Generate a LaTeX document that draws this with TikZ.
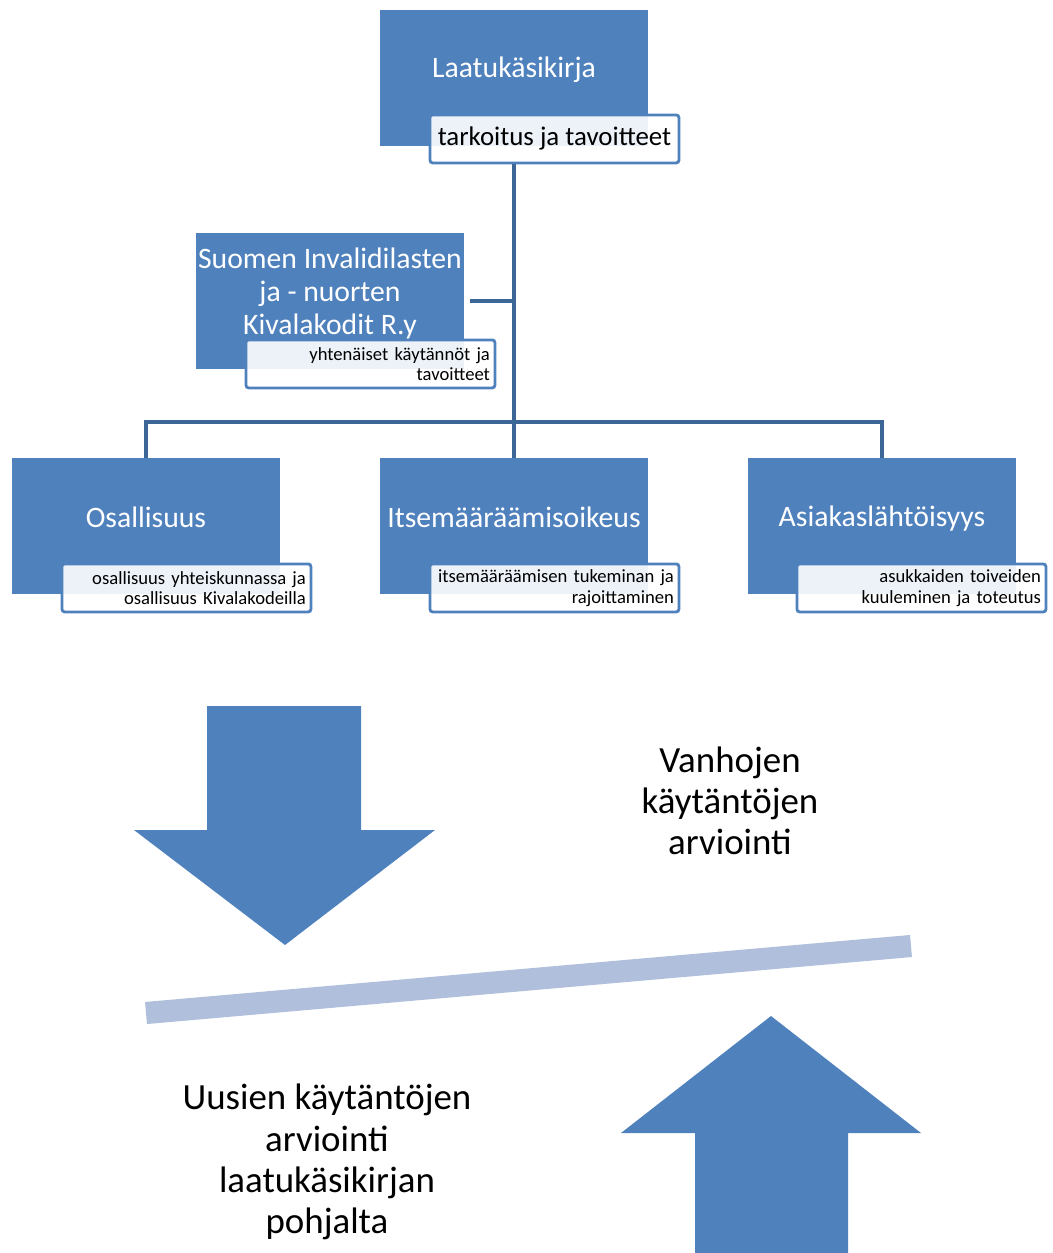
\documentclass[tikz,border=0pt]{standalone}
\usepackage{fontspec}
\setmainfont{Carlito}
\usepackage{tikz}
\usetikzlibrary{positioning,calc}
\definecolor{boxblue}{HTML}{4F81BD}
\definecolor{linkblue}{HTML}{3C6696}
\definecolor{barblue}{HTML}{B0C0DC}

\begin{document}
\begin{tikzpicture}[
        x=0.02cm, y=-0.02cm,
        % Global Styles
        box/.style={rectangle, fill=boxblue, minimum width=5.36cm, minimum height=2.72cm, inner sep=0pt},
        boxtitle/.style={text=white, font=\fontsize{16.9}{18.8}\selectfont, align=center},
        lbl/.style={rectangle, draw=boxblue, line width=1.6pt, rounded corners=1.5pt, fill=white, fill opacity=0.9, text opacity=1, minimum width=4.98cm, minimum height=0.96cm, inner sep=2pt, anchor=south east},
        small/.style={lbl, align=right, text width=4.78cm, font=\fontsize{10.6}{11.6}\selectfont},
        conn/.style={draw=linkblue, line width=2.3pt},
        bigarrow/.style={fill=boxblue},
        bigtext/.style={align=center, font=\fontsize{21}{23.4}\selectfont}
    ]
    \useasboundingbox (0,0) rectangle (1053,1253);

    % --- Top: Laatukasikirja ---
    \node (lk) [box, label={[boxtitle, yshift=0.16cm]center:Laatukäsikirja}] at (514,78) {};
    \node (lkl) [lbl, font=\fontsize{15.3}{17}\selectfont] at ([shift={(32,18)}]lk.south east) {tarkoitus ja tavoitteet};

    % --- Association ---
    \node (su) [box, label={[boxtitle, yshift=0.14cm]center:Suomen Invalidilasten\\ja - nuorten\\Kivalakodit R.y}] at (330,301) {};
    \node (sul) [small] at ([shift={(32,20)}]su.south east) {yhtenäiset käytännöt ja\\tavoitteet};

    % --- Row of principles ---
    \node (os) [box, label={[boxtitle, yshift=0.18cm]center:Osallisuus}] at (146,526) {};
    \node (osl) [small] at ([shift={(32,19)}]os.south east) {osallisuus yhteiskunnassa ja\\osallisuus Kivalakodeilla};

    \node (it) [box, label={[boxtitle, yshift=0.18cm]center:Itsemääräämisoikeus}] at (514,526) {};
    \node (itl) [small] at ([shift={(32,19)}]it.south east) {itsemääräämisen tukeminan ja\\rajoittaminen};

    \node (as) [box, label={[boxtitle, yshift=0.14cm]center:Asiakaslähtöisyys}] at (882,526) {};
    \node (asl) [small] at ([shift={(31,19)}]as.south east) {asukkaiden toiveiden\\kuuleminen ja toteutus};

    % --- CONNECTIONS ---
    \draw [conn] (lkl.south -| lk.south) -- (it.north);
    \draw [conn] ([xshift=0.12cm]su.east) -- (su.east -| lk.south);
    \draw [conn] (os.north) -- ++(0,-36) -| (as.north);

    % --- Balance: arrows and beam ---
    \fill [bigarrow] (207,706) -- (361,706) -- (361,830) -- (435,830) -- (285,945) -- (134,830) -- (207,830) -- cycle;
    \fill [bigarrow] (695,1253) -- (848,1253) -- (848,1133) -- (921,1133) -- (771,1016) -- (621,1133) -- (695,1133) -- cycle;
    \draw [barblue, line width=12.6pt] (146,1013) -- (911,946);

    \node (old) [bigtext] at (730,801) {Vanhojen\\käytäntöjen\\arviointi};
    \node (new) [bigtext] at (327,1162) {Uusien käytäntöjen\\arviointi\\laatukäsikirjan\\pohjalta};

\end{tikzpicture}
\end{document}
